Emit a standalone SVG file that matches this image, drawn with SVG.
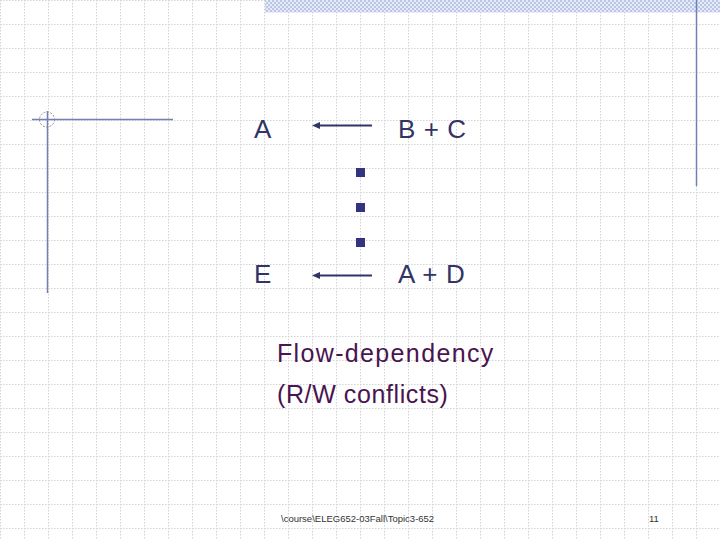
<svg xmlns="http://www.w3.org/2000/svg" width="720" height="540" viewBox="0 0 720 540">
<defs>
  <pattern id="grid" x="0" y="0" width="24" height="24" patternUnits="userSpaceOnUse">
    <path d="M0.5 0V24M0 0.5H24" fill="none" stroke="#d2d2d2" stroke-width="1" stroke-dasharray="1.5 1.5"/>
  </pattern>
  <pattern id="check" x="0" y="0" width="4" height="4" patternUnits="userSpaceOnUse">
    <rect width="4" height="4" fill="#e6ebf6"/>
    <rect width="2" height="2" fill="#b9c6e6"/>
    <rect x="2" y="2" width="2" height="2" fill="#b9c6e6"/>
  </pattern>
  <style>
    .big{font-family:"Liberation Sans",Arial,sans-serif;font-size:26px;fill:#333366}
    .lbl{font-family:"Liberation Sans",Arial,sans-serif;font-size:25px;fill:#4a1450}
    .foot{font-family:"Liberation Sans",Arial,sans-serif;font-size:9.5px;fill:#333333}
    .deco{stroke:#7080b2;stroke-width:1.5;fill:none}
    .sq{fill:#333380}
    .con{stroke:#33336a;stroke-width:2;fill:none}
    .head{fill:#33336a}
  </style>
</defs>
<rect width="720" height="540" fill="#ffffff"/>
<rect width="720" height="540" fill="url(#grid)"/>
<g id="decoration">
  <rect x="265" y="0" width="455" height="12.5" fill="url(#check)"/>
  <line class="deco" x1="696.5" y1="0" x2="696.5" y2="186"/>
  <line class="deco" x1="32" y1="119.5" x2="173" y2="119.5"/>
  <line class="deco" x1="47.5" y1="111" x2="47.5" y2="293"/>
  <circle cx="47" cy="119.5" r="7.5" fill="none" stroke="#8a8a9a" stroke-width="1" stroke-dasharray="2 1.5"/>
</g>
<g id="connectors">
  <line class="con" x1="372" y1="125.5" x2="318" y2="125.5"/>
  <polygon class="head" points="312,125.5 320,122 320,129"/>
  <line class="con" x1="372" y1="275.5" x2="318" y2="275.5"/>
  <polygon class="head" points="312,275.5 320,272 320,279"/>
</g>
<g id="node-A"><text class="big" x="254" y="138">A</text></g>
<g id="node-BC"><text class="big" x="398" y="138" letter-spacing="0.6" xml:space="preserve">B + C</text></g>
<g id="ellipsis">
  <rect class="sq" x="356" y="168" width="9" height="9"/>
  <rect class="sq" x="356" y="203" width="9" height="9"/>
  <rect class="sq" x="356" y="238" width="9" height="9"/>
</g>
<g id="node-E"><text class="big" x="254" y="283">E</text></g>
<g id="node-AD"><text class="big" x="398" y="283" letter-spacing="0.6" xml:space="preserve">A + D</text></g>
<g id="caption">
  <text class="lbl" x="277" y="362" letter-spacing="1.35">Flow-dependency</text>
  <text class="lbl" x="277" y="403" letter-spacing="0.6">(R/W conflicts)</text>
</g>
<g id="footer">
  <text class="foot" x="281" y="522">\course\ELEG652-03Fall\Topic3-652</text>
  <text class="foot" x="649" y="522">11</text>
</g>
</svg>
